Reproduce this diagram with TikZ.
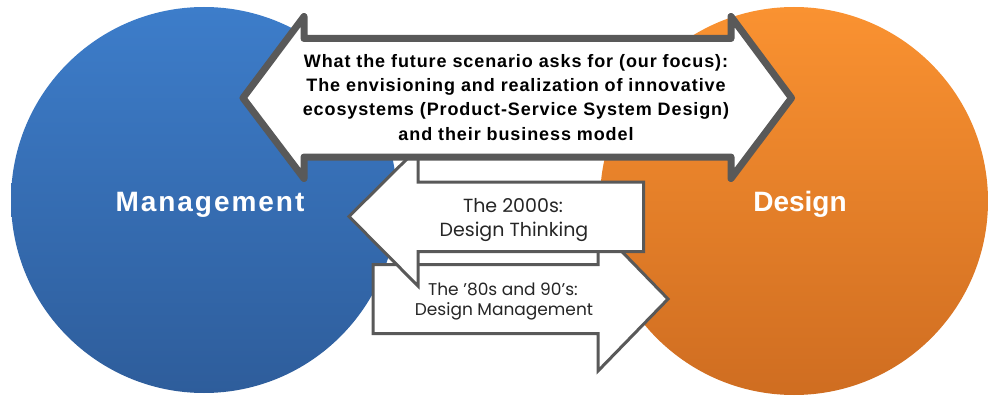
\documentclass[tikz,border=0pt]{standalone}
\usepackage{fontspec}
\setmainfont{Liberation Sans}
\newfontfamily\gothic{Poppins}
\definecolor{lineGray}{HTML}{595959}
\definecolor{blueTop}{HTML}{3D7DCA}
\definecolor{blueBot}{HTML}{2E5D9B}
\definecolor{orgTop}{HTML}{FA9231}
\definecolor{orgBot}{HTML}{CF6D21}
\definecolor{txtDark}{HTML}{262626}
\tikzset{
  bigarrow/.style={draw=lineGray, line width=7pt, fill=white, line join=round},
  smallarrow/.style={draw=lineGray, line width=3pt, fill=white, line join=miter},
  focustext/.style={anchor=base, inner sep=0pt, text=black,
    font=\bfseries\fontsize{18}{22}\selectfont\addfontfeature{LetterSpace=5}},
  eratext/.style={anchor=base, inner sep=0pt, text=txtDark},
  circlelabel/.style={anchor=base, inner sep=0pt, text=white,
    font=\bfseries\fontsize{28}{32}\selectfont}
}
\begin{document}
\begin{tikzpicture}[x=1pt,y=-1pt]
\useasboundingbox (0,0) rectangle (989,396);
% circles
\shade[top color=blueTop, bottom color=blueBot] (204,200) circle (193);
\shade[top color=orgTop, bottom color=orgBot] (794,201) circle (194);
\node[circlelabel] (mgmt) at (210,211) {\addfontfeature{LetterSpace=7}Management};
\node[circlelabel] (design) at (800,211) {Design};
% right arrow ('80s and 90's)
\draw[smallarrow] (373,264.5) -- (598,264.5) -- (598,227) -- (668,299) -- (598,371)
  -- (598,333.5) -- (373,333.5) -- cycle;
% left arrow (2000s)
\draw[smallarrow] (349,216.5) -- (418,148) -- (418,182) -- (643.5,182) -- (643.5,251.5)
  -- (418,251.5) -- (418,286) -- cycle;
% big double arrow
\draw[bigarrow] (243,98) -- (304,16.5) -- (304,38.5) -- (731,38.5) -- (731,16.5)
  -- (791.5,98) -- (731,178.5) -- (731,157) -- (304,157) -- (304,178.5) -- cycle;
% texts
\node[focustext] (f1) at (516,68) {What the future scenario asks for (our focus):};
\node[focustext] (f2) at (516,92) {The envisioning and realization of innovative};
\node[focustext] (f3) at (516,116) {ecosystems (Product-Service System Design)};
\node[focustext] (f4) at (516,140) {and their business model};
\node[eratext, font=\gothic\fontsize{19}{23}\selectfont] (a1) at (513,212.5) {The 2000s:};
\node[eratext, font=\gothic\fontsize{19}{23}\selectfont] (a2) at (514,236) {Design Thinking};
\node[eratext, font=\gothic\fontsize{17}{20}\selectfont] (b1) at (503,295) {The ’80s and 90’s:};
\node[eratext, font=\gothic\fontsize{17}{20}\selectfont] (b2) at (504,315) {Design Management};
\end{tikzpicture}
\end{document}
